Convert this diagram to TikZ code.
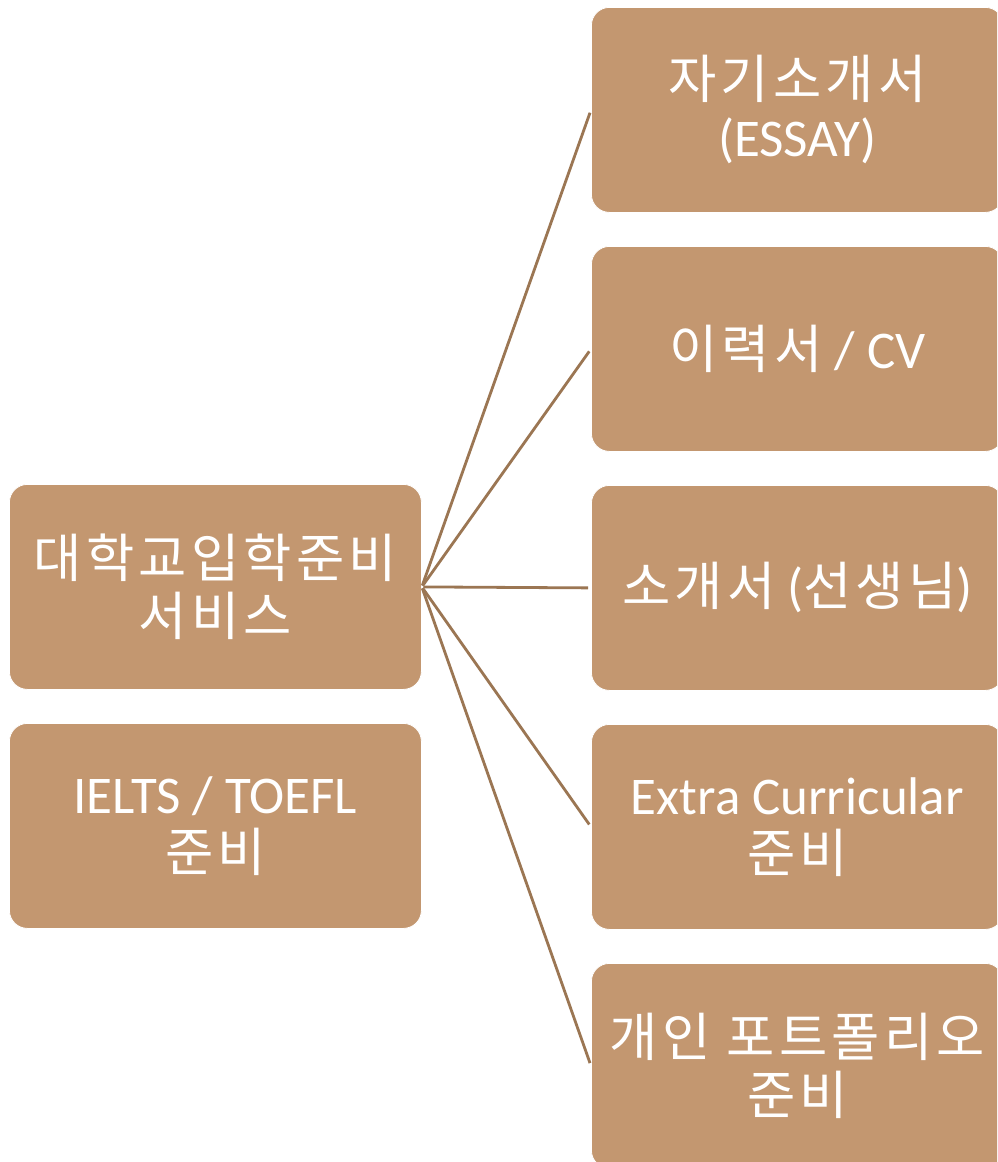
\documentclass[tikz,border=0pt]{standalone}
\usepackage{fontspec}
\setmainfont{Carlito}
\newfontfamily\kr[LetterSpace=8,Scale=0.99]{Noto Sans CJK KR}
\definecolor{boxfill}{HTML}{C39770}
\definecolor{linec}{HTML}{9B7653}
\begin{document}
\begin{tikzpicture}[x=1pt,y=-1pt,
  box/.style={draw=white, line width=0.8pt, fill=boxfill, rounded corners=18pt,
    minimum width=412pt, minimum height=205pt, inner sep=0pt, anchor=north west,
    align=center, text=white, font=\fontsize{53}{58}\selectfont},
  conn/.style={draw=linec, line width=2.8pt, shorten <=1.5pt, shorten >=3pt}]
\clip (0,0) rectangle (997,1162);
\fill[white] (0,0) rectangle (997,1162);
\node[box] (main) at (9,484) {{\kr 대학교입학준비}\\{\kr 서비스}};
\node[box] (ielts) at (9,723) {IELTS / TOEFL\\{\kr 준비}};
\node[box] (r1) at (591,7) {{\kr 자기소개서}\\(ESSAY)};
\node[box] (r2) at (591,246) {{\kr 이력서} / CV};
\node[box] (r3) at (591,485) {{\kr 소개서} ({\kr 선생님})};
\node[box] (r4) at (591,724) {Extra Curricular\\{\kr 준비}};
\node[box] (r5) at (591,963) {{\kr 개인 포트폴리오}\\{\kr 준비}};
\foreach \r in {r1,r2,r3,r4,r5}
  \draw[conn] (main.east) -- (\r.west);
\end{tikzpicture}
\end{document}
